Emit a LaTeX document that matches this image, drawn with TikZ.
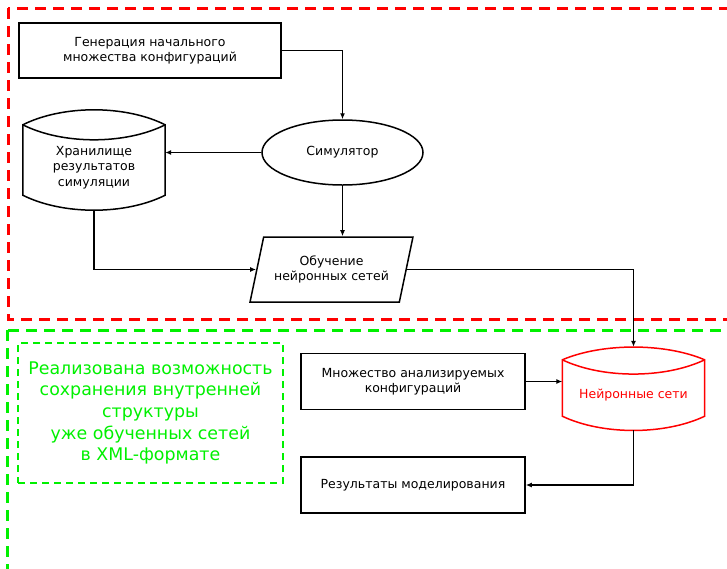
\documentclass[tikz,border=0pt]{standalone}
\usepackage{fontspec}
\setmainfont{DejaVu Sans}
\usepackage{tikz}
\usetikzlibrary{calc,shapes.geometric,arrows.meta}

\definecolor{areared}{RGB}{255,0,0}
\definecolor{areagreen}{RGB}{0,240,0}

\begin{document}
\begin{tikzpicture}[x=1pt, y=-1pt, font=\fontsize{12.5}{15.5}\selectfont,
    block/.style={draw, line width=1.5pt, minimum width=224pt, minimum height=56pt, align=center},
    outline/.style={line width=1.5pt},
    arr/.style={line width=1.4pt, -{Latex[length=6pt,width=5pt]}},
    area/.style={line width=3pt, dash pattern=on 11pt off 7pt}]
    \useasboundingbox (0,0) rectangle (727,568);

    % dashed areas
    \draw[area, areared] (8,8) rectangle (760,319);
    \draw[area, areagreen] (7,330) rectangle (760,600);

    % upper part
    \node[block, minimum width=262pt, minimum height=55pt] (gen) at (150,50.5)
      {Генерация начального\\множества конфигураций};
    \node[ellipse, draw, outline, minimum width=161pt, minimum height=65pt] (sim) at (342.5,152.5)
      {Симулятор};
    \node[align=center, minimum width=142pt, minimum height=85pt] (store) at (94,167.5)
      {Хранилище\\результатов\\симуляции};
    \node[trapezium, draw, outline, trapezium left angle=70.5, trapezium right angle=109.5,
          trapezium stretches=true, minimum width=163pt, minimum height=65pt, align=center]
      (learn) at (331.5,269.5) {Обучение\\нейронных сетей};

    % storage shape
    \draw[outline] (store.north east)
      .. controls +(-40,-20) and +(40,-20) .. (store.north west)
      -- ([shift={(0,-15)}]store.south west)
      .. controls +(40,20) and +(-40,20) .. ([shift={(0,-15)}]store.south east)
      -- cycle;
    \draw[outline] (store.north west)
      .. controls +(40,20) and +(-40,20) .. (store.north east);

    \draw[arr] (gen.east) -| (sim.north);
    \draw[arr] (sim.west) -- (sim.west -| store.east);
    \draw[arr] (sim.south) -- (sim.south |- learn.north);
    \draw[arr] (store.south) |- (learn.west);

    % lower part
    \node[block] (many) at (413,381.5) {Множество анализируемых\\конфигураций};
    \node[block] (res) at (413,485) {Результаты моделирования};
    \node[align=center, text=areared, minimum width=142pt, minimum height=70pt] (net) at (633.5,395)
      {Нейронные сети};
    \node[draw=areagreen, line width=1.1pt, dash pattern=on 7pt off 5pt, text=areagreen,
          minimum width=265pt, minimum height=140pt, align=center,
          font=\fontsize{17.4}{21.7}\selectfont] (note) at (150.5,413)
      {Реализована возможность\\сохранения внутренней\\структуры\\уже обученных сетей\\в XML-формате};

    % network shape
    \draw[outline, areared] (net.north east)
      .. controls +(-40,-17) and +(40,-17) .. (net.north west)
      -- ([shift={(0,-14)}]net.south west)
      .. controls +(40,19) and +(-40,19) .. ([shift={(0,-14)}]net.south east)
      -- cycle;
    \draw[outline, areared] (net.north west)
      .. controls +(40,19) and +(-40,19) .. (net.north east);

    \draw[arr] (learn.east) -| ([shift={(0,-13)}]net.north);
    \draw[arr] (many.east) -- (many.east -| net.west);
    \draw[arr] (net.south) |- (res.east);
\end{tikzpicture}
\end{document}
